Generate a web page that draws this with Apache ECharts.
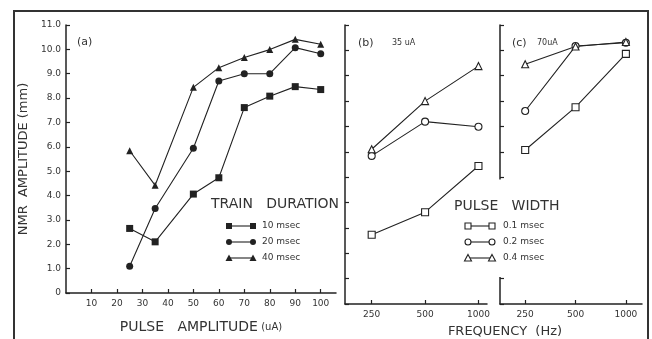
<!DOCTYPE html>
<html>
<head>
<meta charset="utf-8">
<script src="https://cdn.jsdelivr.net/npm/echarts@6/dist/echarts.min.js"></script>
<style>html,body{margin:0;padding:0;background:#fff}#c{width:652px;height:339px}</style>
</head>
<body>
<div id="c"></div>
<script>
// ---- data ----
const ampValues = [25, 35, 50, 60, 70, 80, 90, 100];
const train10 = [2.65, 2.1, 4.06, 4.73, 7.61, 8.08, 8.47, 8.35];
const train20 = [1.1, 3.47, 5.94, 8.7, 9.0, 9.0, 10.07, 9.82];
const train40 = [5.84, 4.42, 8.44, 9.25, 9.67, 9.99, 10.41, 10.21];
const ampTicks = [10, 20, 30, 40, 50, 60, 70, 80, 90, 100];
const freqLabels = ['250', '500', '1000'];
const b01 = [2.73, 3.62, 5.44];
const b02 = [5.84, 7.19, 6.99];
const b04 = [6.1, 8.0, 9.38];
const c01 = [6.07, 7.76, 9.86];
const c02 = [7.61, 10.17, 10.3];
const c04 = [9.45, 10.15, 10.33];
const trainNames = ['10 msec', '20 msec', '40 msec'];
const widthNames = ['0.1 msec', '0.2 msec', '0.4 msec'];

const FONT = 'DejaVu Sans';
const INK = '#222';
const chart = echarts.init(document.getElementById('c'), null, {renderer: 'canvas'});

const freqIdx = freqLabels.map((_, i) => i);
function axisLine() { return {show: true, onZero: false, lineStyle: {color: INK, width: 1.5}}; }

function ampSeries(vals, symbol, size) {
  return {
    type: 'line', xAxisIndex: 0, yAxisIndex: 0,
    data: ampValues.map((x, i) => [x, vals[i]]),
    symbol: symbol, symbolSize: size,
    lineStyle: {color: INK, width: 1.1},
    itemStyle: {color: INK, borderWidth: 0},
    z: 3
  };
}
function freqSeries(g, vals, symbol, size) {
  return {
    type: 'line', xAxisIndex: g, yAxisIndex: g,
    data: freqIdx.map(i => [i, vals[i]]),
    symbol: symbol, symbolSize: size, showAllSymbol: true,
    lineStyle: {color: INK, width: 1.1},
    itemStyle: {color: '#fff', borderColor: INK, borderWidth: 1.1},
    z: 3
  };
}
function yAxisBase(g, showLabel) {
  return {
    gridIndex: g, type: 'value', min: 0, max: 11, interval: 1,
    axisLine: axisLine(),
    axisTick: {show: true, inside: true, length: 4, lineStyle: {color: INK, width: 1.2}},
    axisLabel: {
      show: showLabel, fontFamily: FONT, fontSize: 9, color: '#333', margin: 5,
      formatter: v => v === 0 ? '0' : v.toFixed(1)
    },
    splitLine: {show: false}
  };
}
function freqXAxis(g, min, max) {
  return {
    gridIndex: g, type: 'value', min: min, max: max,
    axisLine: axisLine(),
    axisTick: {show: true, inside: true, length: 4, customValues: freqIdx, lineStyle: {color: INK, width: 1.2}},
    axisLabel: {customValues: freqIdx, formatter: v => freqLabels[Math.round(v)], fontFamily: FONT, fontSize: 9, color: '#333', margin: 6},
    splitLine: {show: false}
  };
}

const yA = yAxisBase(0, true);
yA.name = 'NMR  AMPLITUDE (mm)';
yA.nameLocation = 'middle';
yA.nameGap = 36;
yA.nameRotate = 90;
yA.nameTextStyle = {fontFamily: FONT, fontSize: 13, color: '#333'};

function legendSample(x1, x2, y, kind, filled) {
  const els = [{type: 'line', shape: {x1: x1, y1: y, x2: x2, y2: y}, style: {stroke: INK, lineWidth: 1.1}, z: 10}];
  [x1, x2].forEach(x => {
    const st = filled ? {fill: INK} : {fill: '#fff', stroke: INK, lineWidth: 1.1};
    if (kind === 'rect') els.push({type: 'rect', shape: {x: x - 3, y: y - 3, width: 6, height: 6}, style: st, z: 11});
    else if (kind === 'circle') els.push({type: 'circle', shape: {cx: x, cy: y, r: 3}, style: st, z: 11});
    else els.push({type: 'polygon', shape: {points: [[x, y - 3.5], [x + 3.5, y + 3], [x - 3.5, y + 3]]}, style: st, z: 11});
  });
  return els;
}
function txt(x, y, text, size, align, extra) {
  return Object.assign({type: 'text', x: x, y: y, z: 12,
    style: {text: text, fontFamily: FONT, fontSize: size, fill: '#333', align: align || 'left', verticalAlign: 'middle'}}, extra || {});
}

const kinds = ['rect', 'circle', 'triangle'];
const legendYs = [226, 242, 258];
let graphics = [
  {type: 'rect', shape: {x: 14, y: 11, width: 634, height: 345}, style: {fill: 'none', stroke: '#333', lineWidth: 2}, z: 20},
  // gap in panel (c) axis behind legend title
  {type: 'rect', shape: {x: 495, y: 179.5, width: 9, height: 97.5}, style: {fill: '#fff'}, z: 9},
  txt(77, 42, '(a)', 11),
  txt(358, 43, '(b)', 11),
  txt(392, 43, '35 uA', 8),
  txt(512, 43, '(c)', 11),
  txt(537, 43, '70uA', 8),
  txt(211, 204, 'TRAIN   DURATION', 14),
  txt(454, 206, 'PULSE   WIDTH', 14),
  txt(505, 332, 'FREQUENCY  (Hz)', 13, 'center')
];
kinds.forEach((k, i) => {
  graphics = graphics.concat(legendSample(229, 253, legendYs[i], k, true));
  graphics.push(txt(262, legendYs[i], trainNames[i], 9));
  graphics = graphics.concat(legendSample(468, 492, legendYs[i], k, false));
  graphics.push(txt(503, legendYs[i], widthNames[i], 9));
});

const option = {
  animation: false,
  backgroundColor: '#fff',
  grid: [
    {left: 66, top: 25, width: 270, height: 279},
    {left: 345, top: 25, width: 142, height: 279},
    {left: 500, top: 25, width: 142, height: 279}
  ],
  xAxis: [
    {
      gridIndex: 0, type: 'value', min: 0, max: 106,
      axisLine: axisLine(),
      axisTick: {show: true, inside: true, length: 4, customValues: ampTicks, lineStyle: {color: INK, width: 1.2}},
      axisLabel: {customValues: ampTicks, fontFamily: FONT, fontSize: 9, color: '#333', margin: 6},
      splitLine: {show: false},
      name: '{a|PULSE   AMPLITUDE} {b|(uA)}',
      nameLocation: 'middle', nameGap: 27,
      nameTextStyle: {rich: {a: {fontFamily: FONT, fontSize: 14, color: '#333'}, b: {fontFamily: FONT, fontSize: 10, color: '#333'}}}
    },
    freqXAxis(1, -0.5, 2.16),
    freqXAxis(2, -0.5, 2.32)
  ],
  yAxis: [yA, yAxisBase(1, false), yAxisBase(2, false)],
  series: [
    ampSeries(train10, 'rect', 7),
    ampSeries(train20, 'circle', 7),
    ampSeries(train40, 'triangle', 7),
    freqSeries(1, b01, 'rect', 7),
    freqSeries(1, b02, 'circle', 7),
    freqSeries(1, b04, 'triangle', 7),
    freqSeries(2, c01, 'rect', 7),
    freqSeries(2, c02, 'circle', 7),
    freqSeries(2, c04, 'triangle', 7)
  ],
  graphic: graphics
};
chart.setOption(option);
</script>
</body>
</html>
